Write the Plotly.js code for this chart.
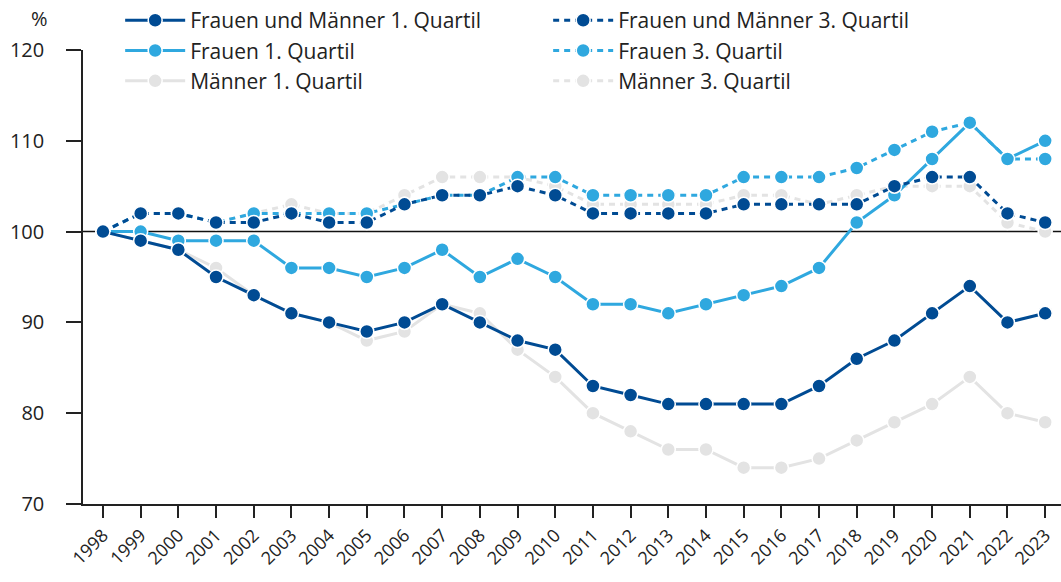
<!DOCTYPE html>
<html>
<head>
<meta charset="utf-8">
<script src="https://cdn.plot.ly/plotly-3.0.1.min.js"></script>
<style>html,body{margin:0;padding:0;background:#fff;}#chart{width:1061px;height:582px;}</style>
</head>
<body>
<div id="chart"></div>
<script>
const years = [1998,1999,2000,2001,2002,2003,2004,2005,2006,2007,2008,2009,2010,2011,2012,2013,2014,2015,2016,2017,2018,2019,2020,2021,2022,2023];
const fmQ1 = [100,99,98,95,93,91,90,89,90,92,90,88,87,83,82,81,81,81,81,83,86,88,91,94,90,91];
const fQ1  = [100,100,99,99,99,96,96,95,96,98,95,97,95,92,92,91,92,93,94,96,101,104,108,112,108,110];
const mQ1  = [100,99,98,96,93,91,90,88,89,92,91,87,84,80,78,76,76,74,74,75,77,79,81,84,80,79];
const fmQ3 = [100,102,102,101,101,102,101,101,103,104,104,105,104,102,102,102,102,103,103,103,103,105,106,106,102,101];
const fQ3  = [100,102,102,101,102,102,102,102,103,104,104,106,106,104,104,104,104,106,106,106,107,109,111,112,108,108];
const mQ3  = [100,102,102,101,102,103,102,102,104,106,106,106,105,103,103,103,103,104,104,103,104,105,105,105,101,100];

const names = ["Frauen und Männer 1. Quartil","Frauen und Männer 3. Quartil","Frauen 1. Quartil","Frauen 3. Quartil","Männer 1. Quartil","Männer 3. Quartil"];
const DARK = "#004b93", LIGHT = "#2fa8df", GREY = "#e3e3e3";

function tr(y, name, color, dash, rank){
  return {x: years, y: y, name: name, type: "scatter", mode: "lines+markers",
    line: {color: color, width: 3, dash: dash},
    marker: {color: color, size: 14, line: {color: "#fff", width: 1.5}},
    legendrank: rank};
}
const data = [
  tr(mQ3, names[5], GREY, "6px,5px", 6),
  tr(mQ1, names[4], GREY, "solid", 5),
  tr(fQ3, names[3], LIGHT, "6px,5px", 4),
  tr(fQ1, names[2], LIGHT, "solid", 3),
  tr(fmQ3, names[1], DARK, "6px,5px", 2),
  tr(fmQ1, names[0], DARK, "solid", 1)
];

const FONT = "Open Sans, Noto Sans, sans-serif";
const layout = {
  width: 1061, height: 582,
  margin: {l: 83, r: 0, t: 50, b: 78, autoexpand: false},
  paper_bgcolor: "#fff", plot_bgcolor: "#fff",
  font: {family: FONT, size: 18, color: "#222"},
  showlegend: true,
  legend: {orientation: "h", x: 0.038, y: 1.11, xanchor: "left", yanchor: "top",
    entrywidth: 353, entrywidthmode: "pixels", tracegroupgap: 0, itemwidth: 60,
    font: {family: FONT, size: 21, color: "#222"}, bgcolor: "rgba(0,0,0,0)"},
  xaxis: {range: [1997.47, 2023.42], tickmode: "array", tickvals: years, ticktext: years.map(String),
    tickangle: -45, ticks: "outside", ticklen: 12, tickcolor: "#222", tickwidth: 1.5,
    showline: true, linecolor: "#222", linewidth: 1.5, showgrid: false, zeroline: false,
    tickfont: {family: FONT, size: 18, color: "#222"}},
  yaxis: {range: [70, 120], tickvals: [70,80,90,100,110,120], ticks: "outside", ticklen: 15, tickcolor: "#222", tickwidth: 1.5,
    showline: true, linecolor: "#222", linewidth: 1.5, showgrid: false, zeroline: false, ticklabelstandoff: 18,
    tickfont: {family: FONT, size: 20, color: "#222"}},
  shapes: [{type: "line", xref: "paper", yref: "y", x0: 0, x1: 1, y0: 100, y1: 100, line: {color: "#111", width: 1.5}, layer: "below"}],
  annotations: [{text: "%", xref: "paper", yref: "paper", x: -0.044, y: 1.07, xanchor: "center", yanchor: "middle", showarrow: false,
    font: {family: FONT, size: 20, color: "#222"}}]
};
Plotly.newPlot("chart", data, layout, {displayModeBar: false, responsive: false});
</script>
</body>
</html>
